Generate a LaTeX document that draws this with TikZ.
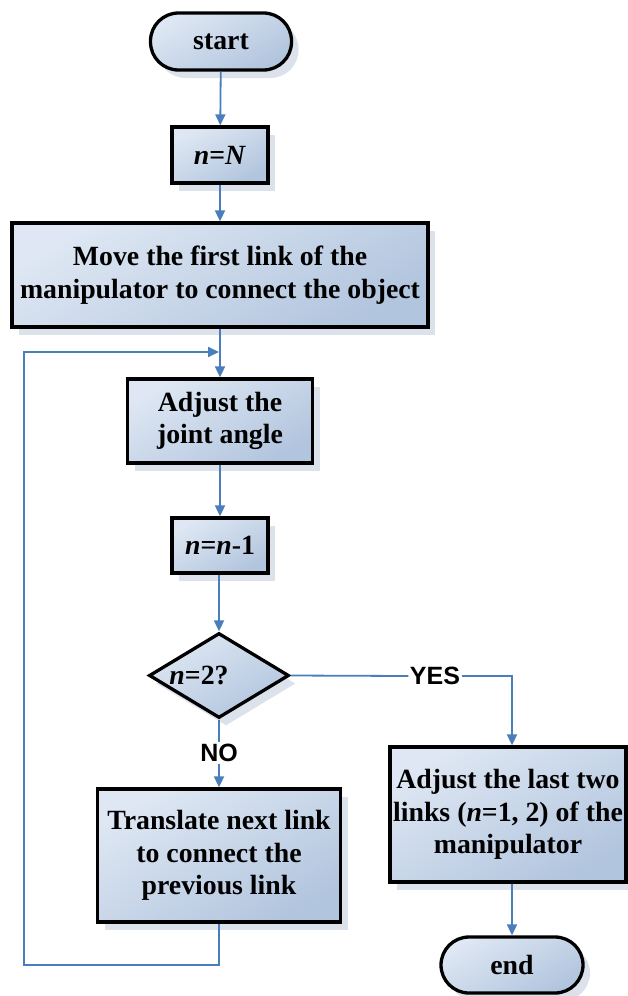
\documentclass[tikz,border=0pt]{standalone}
\usepackage{fontspec}
\setmainfont{Liberation Serif}
\newfontfamily\labelsans{Liberation Sans}
\usetikzlibrary{arrows.meta,shadows,shapes.geometric,calc}

\definecolor{flowblue}{HTML}{4A7EBB}
\definecolor{boxtop}{HTML}{DEE7F3}
\definecolor{boxbot}{HTML}{B2C5DE}
\definecolor{shadowgray}{HTML}{DCE2EB}

\tikzset{
  basebox/.style={draw=black, line width=3.3pt,
    top color=boxtop, bottom color=boxbot, shading angle=30,
    drop shadow={shadow xshift=7pt, shadow yshift=-8pt, fill=shadowgray, opacity=1},
    align=center, inner sep=0pt,
    font=\fontsize{27.8}{32.5}\selectfont\bfseries},
  stepbox/.style={basebox, rectangle},
  terminal/.style={basebox, rectangle, rounded corners=28pt,
    minimum width=141pt, minimum height=57pt},
  decision/.style={basebox, diamond, minimum width=140pt, minimum height=85pt},
  flow/.style={draw=flowblue, line width=1.8pt},
  flowarrow/.style={flow, -{Triangle[length=11pt,width=10pt]}},
  answer/.style={font=\labelsans\bfseries\fontsize{25}{25}\selectfont, inner sep=1.5pt}
}

\begin{document}
\begin{tikzpicture}[x=1pt,y=-1pt]
  \useasboundingbox (0,0) rectangle (627,996);

  % main column
  \node[terminal] (start) at (221,41.5) {start};
  \node[stepbox, minimum width=96pt, minimum height=56pt] (nN) at (220,155) {\textit{n}=\textit{N}};
  \node[stepbox, minimum width=416pt, minimum height=104pt] (move) at (220,275)
    {Move the first link of the\\manipulator to connect the object};
  \node[stepbox, minimum width=185pt, minimum height=84pt] (adjust) at (220,421)
    {Adjust the\\joint angle};
  \node[stepbox, minimum width=96pt, minimum height=55pt] (dec1) at (220,545.5)
    {\textit{n}=\textit{n}-1};
  \node[decision,
    label={[font=\fontsize{27.8}{27.8}\selectfont\bfseries, xshift=-20pt]center:{\textit{n}=2?}}]
    (test) at (219,675.5) {};
  \node[stepbox, minimum width=243pt, minimum height=133pt] (translate) at (219,855.5)
    {Translate next link\\to connect the\\previous link};

  % right branch
  \node[stepbox, minimum width=236pt, minimum height=135pt] (last) at (508,814.5)
    {Adjust the last two\\links (\textit{n}=1, 2) of the\\manipulator};
  \node[terminal, minimum width=142pt, minimum height=56pt] (finish) at (512,965) {end};

  % branch labels
  \node[answer] (yes) at (435,676) {YES};
  \node[answer] (no) at (219,753) {NO};

  % loop-back corners
  \coordinate (loopbot) at (219,965);
  \coordinate (loopleft) at (24,965);
  \coordinate (looptop) at (24,352);
  \coordinate (loopend) at (219,352);

  % connectors
  \draw[flowarrow] (start) -- (nN);
  \draw[flowarrow] (nN) -- (move);
  \draw[flowarrow] (move) -- (adjust);
  \draw[flowarrow] (adjust) -- (dec1);
  \draw[flowarrow] (dec1.south -| test.north) -- (test.north);
  \draw[flow] (test.south) -- (no.north);
  \draw[flowarrow] (no.south) -- (no.south |- translate.north);
  \draw[flow] (test.east) -- (yes.west);
  \draw[flowarrow] (yes.east) -| (finish.north |- last.north);
  \draw[flowarrow] (finish.north |- last.south) -- (finish.north);
  \draw[flowarrow] (translate.south) -- (loopbot) -- (loopleft) -- (looptop) -- (loopend);
\end{tikzpicture}
\end{document}
